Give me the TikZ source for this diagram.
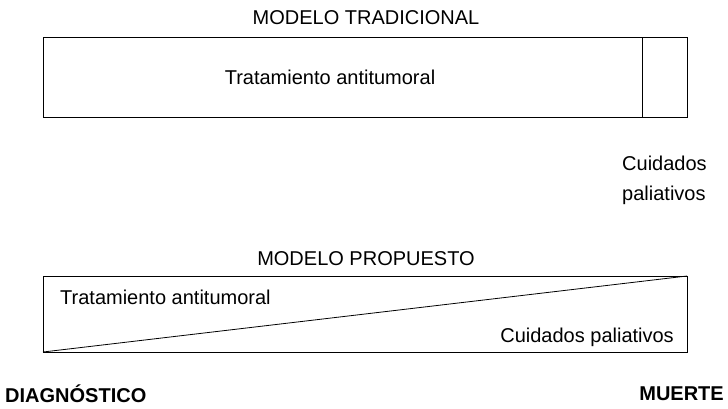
\documentclass[tikz,border=0pt]{standalone}
\usepackage{fontspec}
\setmainfont{Liberation Sans}
\usetikzlibrary{positioning}

\begin{document}
\begin{tikzpicture}[x=1pt,y=-1pt,
    caja/.style={draw, line width=0.8pt},
    rotulo/.style={font=\fontsize{20}{23}\selectfont, inner sep=0pt, anchor=base},
    extremo/.style={font=\fontsize{20}{23}\selectfont\bfseries, inner sep=0pt}]
    \useasboundingbox (0,0) rectangle (728,408);

    % Modelo tradicional
    \coordinate (TA) at (43,37);
    \coordinate (TB) at (687,117);
    \coordinate (TD1) at (642,37);
    \coordinate (TD2) at (642,117);
    \node[rotulo] (tittrad) at (366,24) {MODELO TRADICIONAL};
    \draw[caja] (TA) rectangle (TB);
    \draw[caja] (TD1) -- (TD2);
    \node[rotulo] (tratrad) at (330,84) {Tratamiento antitumoral};
    \node[rotulo, anchor=base west] (cui1) at (622,170) {Cuidados};
    \node[rotulo, anchor=base west] (cui2) at (622,200) {paliativos};

    % Modelo propuesto
    \coordinate (PA) at (43,276);
    \coordinate (PB) at (687,352);
    \coordinate (PC) at (43,352);
    \coordinate (PD) at (687,276);
    \node[rotulo] (titprop) at (366,265) {MODELO PROPUESTO};
    \draw[caja] (PA) rectangle (PB);
    \draw[caja] (PC) -- (PD);
    \node[rotulo, anchor=base west] (traprop) at (60,304) {Tratamiento antitumoral};
    \node[rotulo, anchor=base east] (cuiprop) at (674,342) {Cuidados paliativos};

    % Extremos
    \node[extremo, anchor=west] (diag) at (5,394) {DIAGNÓSTICO};
    \node[extremo, anchor=east] (muerte) at (724,394) {MUERTE};
\end{tikzpicture}
\end{document}
